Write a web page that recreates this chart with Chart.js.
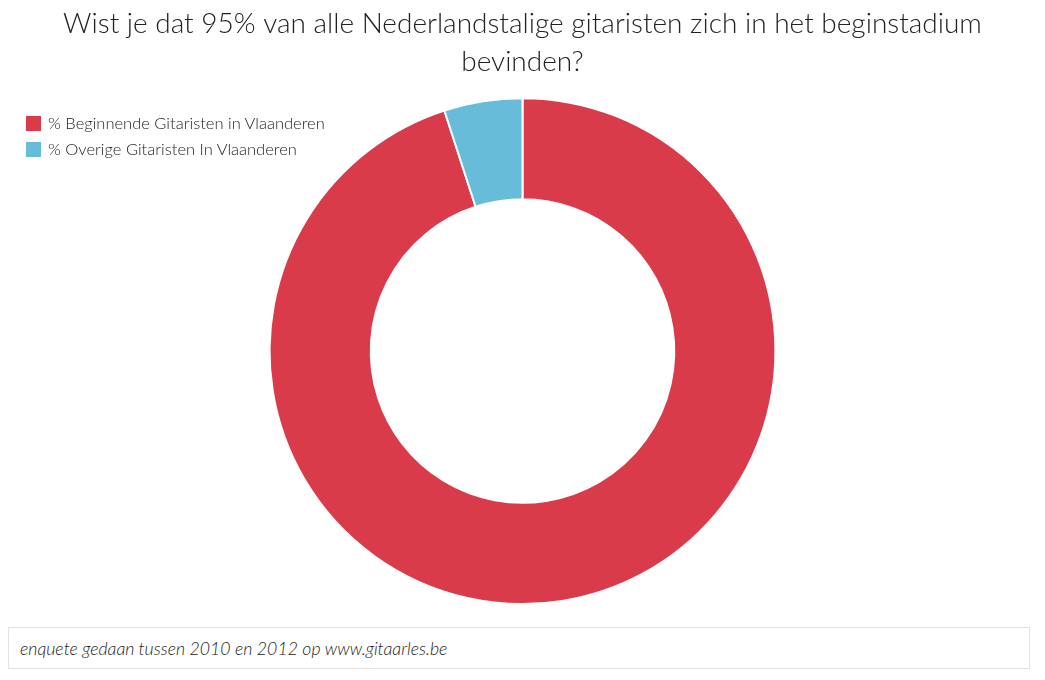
<!DOCTYPE html>
<html>
<head>
<meta charset="utf-8">
<script src="https://cdn.jsdelivr.net/npm/chart.js@4"></script>
<style>
    html, body {
        margin: 0;
        padding: 0;
        background: #fff;
        font-family: "Lato", "Open Sans", sans-serif;
    }

    .chart-wrap {
        position: relative;
        width: 1045px;
        height: 620px;
    }

    .chart-legend {
        position: absolute;
        left: 26px;
        top: 110px;
        margin: 0;
        padding: 0;
        list-style: none;
    }

    .chart-legend li {
        display: flex;
        align-items: center;
        height: 26px;
        font-size: 16.5px;
        font-weight: 300;
        color: #222;
    }

    .chart-legend span {
        display: inline-block;
        width: 15px;
        height: 15px;
        margin-right: 7px;
    }

    .chart-note {
        position: absolute;
        left: 8px;
        top: 627px;
        width: 1022px;
        height: 42px;
        border: 1px solid #e3e3e3;
        box-sizing: border-box;
        font-style: italic;
        font-weight: 300;
        font-size: 17.7px;
        color: #222;
        line-height: 42px;
        padding-left: 11px;
    }
</style>
</head>
<body>
<div class="chart-wrap">
    <canvas id="donut-chart"></canvas>
    <ul class="chart-legend" id="donut-legend"></ul>
</div>
<div class="chart-note">enquete gedaan tussen 2010 en 2012 op www.gitaarles.be</div>

<script>
const titleLines = [
    "Wist je dat 95% van alle Nederlandstalige gitaristen zich in het beginstadium",
    "bevinden?",
];
const categories = ["% Beginnende Gitaristen in Vlaanderen", "% Overige Gitaristen In Vlaanderen"];
const shares = [95, 5];
const sliceColors = ["#d93b4a", "#67bcd9"];

function buildLegend() {
    const list = document.getElementById("donut-legend");

    list.innerHTML = categories
        .map((label, i) => `<li><span style="background:${sliceColors[i]}"></span>${label}</li>`)
        .join("");
}

function initDonutChart() {
    const canvas = document.getElementById("donut-chart");

    new Chart(canvas, {
        type: "doughnut",
        data: {
            labels: categories,
            datasets: [
                {
                    data: shares,
                    backgroundColor: sliceColors,
                    borderColor: "#ffffff",
                    borderWidth: 2,
                },
            ],
        },
        options: {
            responsive: true,
            maintainAspectRatio: false,
            animation: false,
            cutout: "60%",
            layout: {
                padding: { bottom: 15 },
            },
            plugins: {
                legend: { display: false },
                tooltip: { enabled: false },
                title: {
                    display: true,
                    text: titleLines,
                    color: "#222",
                    font: {
                        family: "Lato, 'Open Sans', sans-serif",
                        size: 28,
                        weight: "300",
                        lineHeight: 1.36,
                    },
                    padding: { top: 5, bottom: 16 },
                },
            },
        },
    });
}

buildLegend();
initDonutChart();
</script>
</body>
</html>
